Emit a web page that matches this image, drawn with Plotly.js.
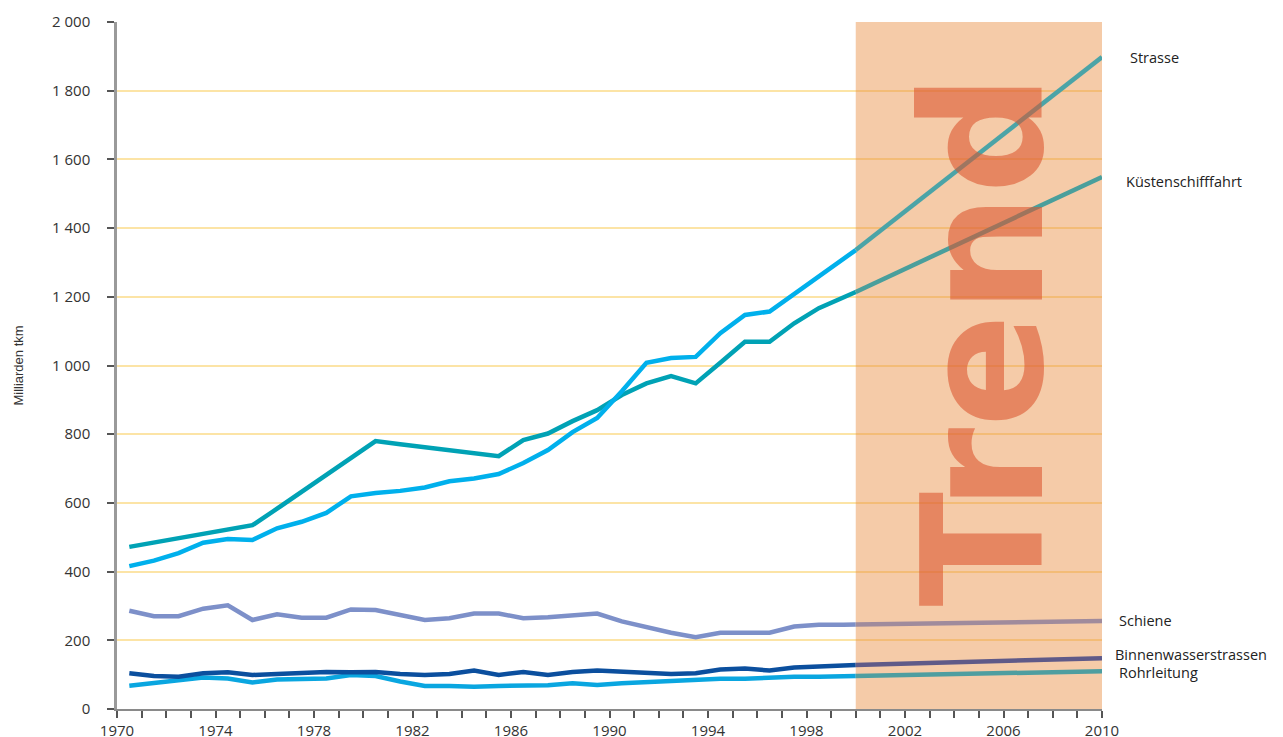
<!DOCTYPE html>
<html>
<head>
<meta charset="utf-8">
<script src="https://cdn.plot.ly/plotly-3.0.1.min.js"></script>
<style>html,body{margin:0;padding:0;background:#fff;}#chart{width:1283px;height:737px;}</style>
</head>
<body>
<div id="chart"></div>
<script>
// Years of observed data (plotted at mid-year)
const years = [1970,1971,1972,1973,1974,1975,1976,1977,1978,1979,1980,1981,1982,1983,1984,1985,1986,1987,1988,1989,1990,1991,1992,1993,1994,1995,1996,1997,1998,1999];
const trendYears = [2000, 2010];

// Milliarden tkm
const strasse  = [416,432,454,484,495,492,526,545,571,619,629,635,645,663,671,684,716,754,806,847,925,1008,1022,1025,1094,1147,1157,1208,1259,1310];
const kuesten  = [472,485,498,510,523,535,583,632,682,731,780,771,762,754,745,736,783,802,838,870,914,948,969,948,1008,1069,1069,1123,1167,1197];
const schiene  = [286,270,270,292,302,259,276,266,266,290,288,274,259,264,278,278,264,267,274,278,255,238,222,209,222,222,222,240,245,245];
const binnen   = [104,96,94,104,107,99,102,106,108,107,108,102,99,102,112,99,108,99,108,112,108,106,102,104,115,118,112,121,125,127];
const rohr     = [68,77,86,92,89,77,86,89,89,99,96,80,67,67,65,67,67,69,75,70,75,79,82,86,88,88,92,94,94,95];

// Trend values (2000, 2010)
const strasseTrend = [1336, 1898];
const kuestenTrend = [1214, 1549];
const schieneTrend = [246, 256];
const binnenTrend  = [128, 148];
const rohrTrend    = [96, 110];

const seriesNames = ['Strasse','Küstenschifffahrt','Schiene','Binnenwasserstrassen','Rohrleitung'];
const yTickVals = [0,200,400,600,800,1000,1200,1400,1600,1800,2000];
const yTickText = ['0','200','400','600','800','1 000','1 200','1 400','1 600','1 800','2 000'];

const xs = years.map(y => y + 0.5).concat([trendYears[0]]);

function hist(vals, trend, color, name) {
  return {x: xs, y: vals.concat([trend[0]]), type: 'scatter', mode: 'lines', name: name,
          line: {color: color, width: 4.5}, hoverinfo: 'x+y'};
}
function tr(trend, color, name) {
  return {x: trendYears, y: trend, type: 'scatter', mode: 'lines', name: name + ' (Trend)',
          line: {color: color, width: 4.5}, hoverinfo: 'x+y'};
}

const data = [
  hist(schiene, schieneTrend, '#7d90c9', seriesNames[2]),
  hist(rohr, rohrTrend, '#0aa6e0', seriesNames[4]),
  hist(binnen, binnenTrend, '#0b4f9e', seriesNames[3]),
  hist(kuesten, kuestenTrend, '#00a2b5', seriesNames[1]),
  hist(strasse, strasseTrend, '#00b0ec', seriesNames[0]),
  tr(schieneTrend, '#a08b9c', seriesNames[2]),
  tr(rohrTrend, '#4e9ea0', seriesNames[4]),
  tr(binnenTrend, '#5f5a88', seriesNames[3]),
  tr(kuestenTrend, '#4a9f9c', seriesNames[1]),
  tr(strasseTrend, '#4ba4a7', seriesNames[0])
];

const labelFont = {family: 'Open Sans', size: 14.5, color: '#222'};
const tickFont = {family: 'Open Sans', size: 15, color: '#333'};
const layout = {
  width: 1283, height: 737,
  margin: {l: 117, r: 181, t: 22, b: 28},
  paper_bgcolor: '#fff', plot_bgcolor: '#fff',
  showlegend: false,
  xaxis: {
    range: [1970, 2010], tick0: 1970, dtick: 4,
    ticks: 'outside', ticklen: 7, tickwidth: 1.5, tickcolor: '#555',
    showline: true, linecolor: '#8a8a8a', linewidth: 2,
    showgrid: false, zeroline: false,
    tickfont: tickFont,
    minor: {dtick: 1, tick0: 1970, ticks: 'outside', ticklen: 7, tickwidth: 1.5, tickcolor: '#555', showgrid: false}
  },
  yaxis: {
    range: [0, 2000], tickvals: yTickVals, ticktext: yTickText,
    ticks: 'outside', ticklen: 7, tickwidth: 1.5, tickcolor: '#555',
    ticklabelstandoff: 14,
    showline: true, linecolor: '#9a9a9a', linewidth: 2.5,
    showgrid: true, gridcolor: '#fce4a6', gridwidth: 1.5, zeroline: false,
    tickfont: tickFont,
    title: {text: 'Milliarden tkm', font: {family: 'Liberation Sans Narrow, Liberation Sans', size: 13, color: '#333'}, standoff: 26}
  },
  shapes: [
    {type: 'rect', xref: 'x', yref: 'y', x0: 2000, x1: 2010, y0: 0, y1: 2000,
     fillcolor: 'rgba(232,140,62,0.45)', line: {width: 0}, layer: 'between'}
  ],
  annotations: [
    {xref: 'x', yref: 'y', x: 2005.2, y: 1075, text: 'Trend', showarrow: false, textangle: -90,
     font: {family: 'DejaVu Sans', size: 168, weight: 'bold', color: 'rgba(218,84,46,0.58)'}},
    {xref: 'paper', yref: 'y', x: 1.0264, y: 1898, xanchor: 'left', text: seriesNames[0], showarrow: false, font: labelFont},
    {xref: 'paper', yref: 'y', x: 1.0223, y: 1537, xanchor: 'left', text: seriesNames[1], showarrow: false, font: labelFont},
    {xref: 'paper', yref: 'y', x: 1.0152, y: 259, xanchor: 'left', text: seriesNames[2], showarrow: false, font: labelFont},
    {xref: 'paper', yref: 'y', x: 1.0112, y: 160, xanchor: 'left', text: seriesNames[3], showarrow: false, font: labelFont},
    {xref: 'paper', yref: 'y', x: 1.0152, y: 106, xanchor: 'left', text: seriesNames[4], showarrow: false, font: labelFont}
  ]
};

Plotly.newPlot('chart', data, layout, {displayModeBar: false, responsive: false});
</script>
</body>
</html>
